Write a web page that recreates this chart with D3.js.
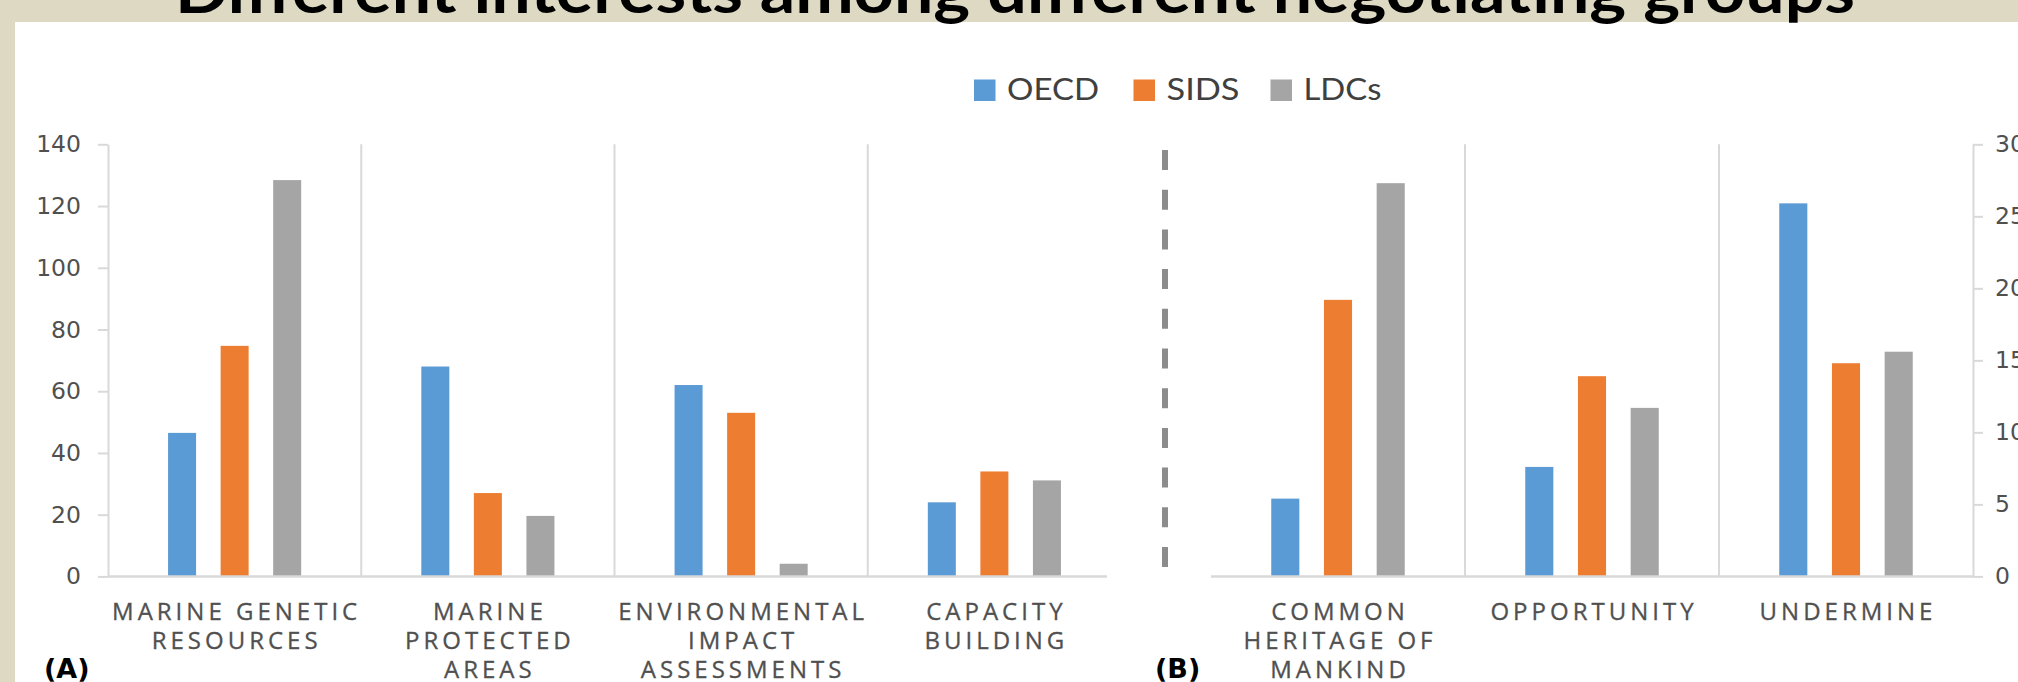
<!DOCTYPE html>
<html><head><meta charset="utf-8">
<script src="https://cdn.jsdelivr.net/npm/d3@7"></script>
<style>html,body{margin:0;padding:0;background:#ddd9c3;overflow:hidden}</style>
</head><body>
<svg id="c" width="2018" height="682"></svg>
<script>
// ---- data ----
const series = ["OECD", "SIDS", "LDCs"];
const colors = ["#5b9bd5", "#ed7d31", "#a5a5a5"];
const categoriesA = [["MARINE GENETIC","RESOURCES"],["MARINE","PROTECTED","AREAS"],["ENVIRONMENTAL","IMPACT","ASSESSMENTS"],["CAPACITY","BUILDING"]];
const oecdA = [46.5, 68, 62, 24];
const sidsA = [74.7, 27, 53, 34];
const ldcsA = [128.4, 19.6, 4.1, 31.1];
const categoriesB = [["COMMON","HERITAGE OF","MANKIND"],["OPPORTUNITY"],["UNDERMINE"]];
const oecdB = [5.4, 7.6, 25.9];
const sidsB = [19.2, 13.9, 14.8];
const ldcsB = [27.3, 11.7, 15.6];
const ticksA = [0,20,40,60,80,100,120,140];
const ticksB = [0,5,10,15,20,25,30];
const title = "Different interests among different negotiating groups";

const svg = d3.select("#c");
svg.append("rect").attr("x",15).attr("y",22).attr("width",2003).attr("height",660).attr("fill","#fff");

// title (top cut off)
svg.append("text").attr("x",1015).attr("y",13).attr("text-anchor","middle")
  .attr("font-family","Lato").attr("font-weight","bold").attr("font-size",62)
  .attr("textLength",1680).attr("lengthAdjust","spacingAndGlyphs")
  .attr("fill","#000").text(title);

const yTop = 144.3, yBot = 576.4;
const grid = "#d9d9d9", txt = "#505050";

function panel(cats, vals, ticks, yMax, x0, x1, opts){
  const g = svg.append("g");
  const x = d3.scaleBand().domain(d3.range(cats.length)).range([x0,x1]).padding(0);
  const inner = d3.scaleBand().domain(series).range([0,x.bandwidth()]).paddingInner(0.467).paddingOuter(1.143);
  const y = d3.scaleLinear().domain([0,yMax]).range([yBot,yTop]);
  // vertical category gridlines
  const bounds = d3.range(cats.length).map(i=>x(i)).filter((b,i)=> i>0);
  g.selectAll("line.vg").data(bounds).join("line")
    .attr("x1",d=>d).attr("x2",d=>d).attr("y1",yTop).attr("y2",yBot)
    .attr("stroke",grid).attr("stroke-width",2);
  // bars
  series.forEach((s,si)=>{
    g.selectAll("rect.s"+si).data(vals[si]).join("rect")
      .attr("x",(d,i)=>x(i)+inner(s)).attr("width",inner.bandwidth())
      .attr("y",d=>y(d)).attr("height",d=>yBot-y(d)).attr("fill",colors[si]);
  });
  // baseline
  g.append("line").attr("x1",opts.baseStart).attr("x2",opts.baseEnd).attr("y1",yBot).attr("y2",yBot)
    .attr("stroke",grid).attr("stroke-width",2.5);
  // axis
  const ax = opts.side==="left" ? d3.axisLeft(y) : d3.axisRight(y);
  ax.tickValues(ticks).tickSize(10).tickPadding(opts.side==="left"?17:12).tickSizeOuter(0);
  const axg = g.append("g").attr("transform",`translate(${opts.axisX},0)`).call(ax);
  axg.select(".domain").attr("stroke",grid).attr("stroke-width",2);
  axg.selectAll(".tick line").attr("stroke",grid).attr("stroke-width",2);
  axg.selectAll(".tick text").attr("fill",txt).attr("font-family","DejaVu Sans").attr("font-size",23.5);
  // category labels
  const ls = 4;
  cats.forEach((lines,i)=>{
    const cx = x(i)+x.bandwidth()/2 + ls/2;
    lines.forEach((ln,j)=>{
      g.append("text").attr("x",cx).attr("y",620+j*29).attr("text-anchor","middle")
        .attr("font-family","Open Sans").attr("font-size",24).attr("letter-spacing",ls)
        .attr("fill",txt).attr("stroke",txt).attr("stroke-width",0.3).text(ln);
    });
  });
  return {x,y};
}

panel(categoriesA,[oecdA,sidsA,ldcsA],ticksA,140,108,1121,{side:"left",axisX:108,baseStart:108,baseEnd:1107});
panel(categoriesB,[oecdB,sidsB,ldcsB],ticksB,30,1211,1973,{side:"right",axisX:1973,baseStart:1211,baseEnd:1973});

// dashed separator
svg.append("line").attr("x1",1165).attr("x2",1165).attr("y1",150).attr("y2",568)
  .attr("stroke","#8c8c8c").attr("stroke-width",6).attr("stroke-dasharray","20 19.7");

// panel letters
svg.append("text").attr("x",44).attr("y",678).attr("font-family","DejaVu Sans").attr("font-weight","bold")
  .attr("font-size",27).attr("fill","#000").text("(A)");
svg.append("text").attr("x",1155).attr("y",678).attr("font-family","DejaVu Sans").attr("font-weight","bold")
  .attr("font-size",27).attr("fill","#000").text("(B)");

// legend
const legX = [974, 1133.5, 1270.5];
const legW = [92, 73, 78];
series.forEach((s,i)=>{
  svg.append("rect").attr("x",legX[i]).attr("y",79.5).attr("width",21.5).attr("height",21.5).attr("fill",colors[i]);
  svg.append("text").attr("x",legX[i]+33).attr("y",100).attr("font-family","Lato").attr("font-size",30)
    .attr("textLength",legW[i]).attr("lengthAdjust","spacingAndGlyphs").attr("fill","#404040").text(s);
});
</script>
</body></html>
